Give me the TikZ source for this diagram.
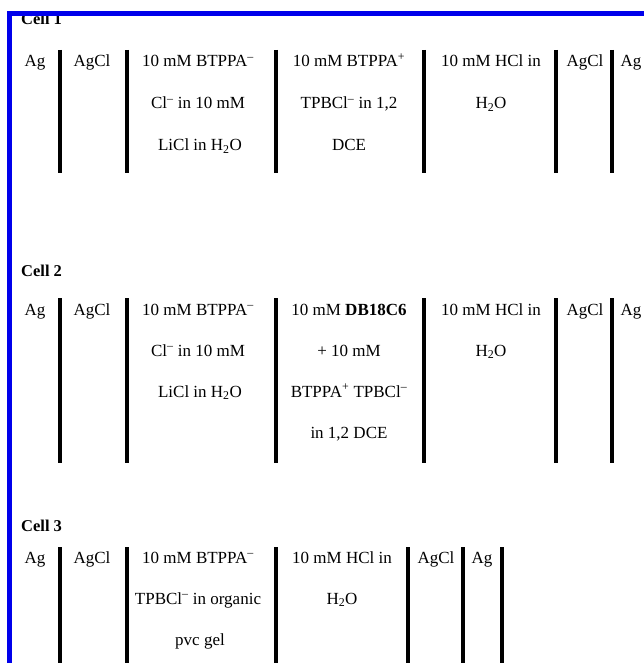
\documentclass[tikz,border=0pt]{standalone}
\usepackage{fontspec}
\setmainfont{Liberation Serif}
\definecolor{frameblue}{RGB}{0,0,235}
\newcommand{\supminus}{\textsuperscript{–}}
\begin{document}
\begin{tikzpicture}[x=1pt,y=-1pt,
  txt/.style={anchor=base,font=\fontsize{17}{20}\selectfont,inner sep=0pt},
  lbl/.style={anchor=base west,font=\fontsize{16.5}{20}\selectfont\bfseries,inner sep=0pt},
  bar/.style={line width=4pt,black},
  frame/.style={line width=5pt,frameblue}]
\useasboundingbox (0,0) rectangle (644,663);
% ---------- Cell 1 ----------
\node[lbl] (l1) at (21,25) {Cell 1};
\foreach \x in {60,127,276,424,556,612} \draw[bar] (\x,50) -- (\x,173);
\node[txt] (a1) at (35,66.5) {Ag};
\node[txt] (b1) at (92,66.5) {AgCl};
\node[txt] (c1a) at (198,66.5) {10 mM BTPPA\supminus};
\node[txt] (c1b) at (198,108.5) {Cl\supminus{} in 10 mM};
\node[txt] (c1c) at (200,150.5) {LiCl in H\textsubscript{2}O};
\node[txt] (d1a) at (349,66.5) {10 mM BTPPA\textsuperscript{+}};
\node[txt] (d1b) at (349,108.5) {TPBCl\supminus{} in 1,2};
\node[txt] (d1c) at (349,150.5) {DCE};
\node[txt] (e1a) at (491,66.5) {10 mM HCl in};
\node[txt] (e1b) at (491,108.5) {H\textsubscript{2}O};
\node[txt] (f1) at (585,66.5) {AgCl};
\node[txt] (g1) at (631,66.5) {Ag};
% ---------- Cell 2 ----------
\node[lbl] (l2) at (21,276) {Cell 2};
\foreach \x in {60,127,276,424,556,612} \draw[bar] (\x,298) -- (\x,463);
\node[txt] (a2) at (35,315) {Ag};
\node[txt] (b2) at (92,315) {AgCl};
\node[txt] (c2a) at (198,315) {10 mM BTPPA\supminus};
\node[txt] (c2b) at (198,356) {Cl\supminus{} in 10 mM};
\node[txt] (c2c) at (200,397) {LiCl in H\textsubscript{2}O};
\node[txt] (d2a) at (349,315) {10 mM \textbf{DB18C6}};
\node[txt] (d2b) at (349,356) {+ 10 mM};
\node[txt] (d2c) at (349,397) {BTPPA\textsuperscript{+} TPBCl\supminus};
\node[txt] (d2d) at (349,438) {in 1,2 DCE};
\node[txt] (e2a) at (491,315) {10 mM HCl in};
\node[txt] (e2b) at (491,356) {H\textsubscript{2}O};
\node[txt] (f2) at (585,315) {AgCl};
\node[txt] (g2) at (631,315) {Ag};
% ---------- Cell 3 ----------
\node[lbl] (l3) at (21,531) {Cell 3};
\foreach \x in {60,127,276,408,463,502} \draw[bar] (\x,547) -- (\x,663);
\node[txt] (a3) at (35,563) {Ag};
\node[txt] (b3) at (92,563) {AgCl};
\node[txt] (c3a) at (198,563) {10 mM BTPPA\supminus};
\node[txt] (c3b) at (198,604) {TPBCl\supminus{} in organic};
\node[txt] (c3c) at (200,645) {pvc gel};
\node[txt] (d3a) at (342,563) {10 mM HCl in};
\node[txt] (d3b) at (342,604) {H\textsubscript{2}O};
\node[txt] (e3) at (436,563) {AgCl};
\node[txt] (f3) at (482,563) {Ag};
% ---------- frame ----------
\draw[frame] (9.5,663) -- (9.5,13.5) -- (644,13.5);
\end{tikzpicture}
\end{document}
